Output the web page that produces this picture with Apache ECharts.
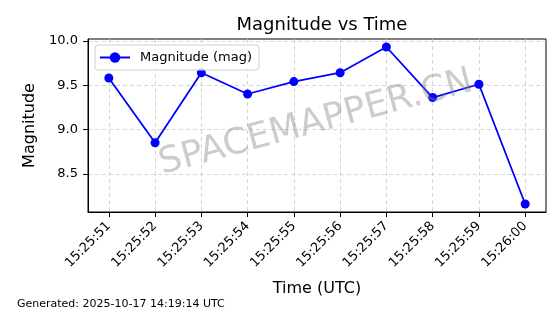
<!DOCTYPE html>
<html><head><meta charset="utf-8">
<script src="https://cdn.jsdelivr.net/npm/echarts@6/dist/echarts.min.js"></script>
<style>html,body{margin:0;padding:0;background:#fff}#c{width:560px;height:314px}</style>
</head><body><div id="c"></div>
<script>
var times = ['15:25:51','15:25:52','15:25:53','15:25:54','15:25:55','15:25:56','15:25:57','15:25:58','15:25:59','15:26:00'];
var magnitudes = [9.58, 8.85, 9.64, 9.40, 9.54, 9.64, 9.93, 9.36, 9.51, 8.16];
var yTicks = [8.5, 9.0, 9.5, 10.0];
var xTickIdx = times.map(function(t, i){ return i; });
var FONT = 'DejaVu Sans';
var chart = echarts.init(document.getElementById('c'), null, {renderer: 'canvas'});
chart.setOption({
  animation: false,
  textStyle: {fontFamily: FONT},
  title: {
    text: 'Magnitude vs Time', left: 317, top: 11, textAlign: 'center',
    textStyle: {fontFamily: FONT, fontSize: 18, fontWeight: 'normal', color: '#000'}
  },
  grid: {left: 88, right: 14, top: 39, bottom: 102, show: true, borderColor: '#000', borderWidth: 1, backgroundColor: 'transparent'},
  legend: {
    left: 95, top: 45, orient: 'vertical',
    padding: [6, 7, 6, 4], itemWidth: 30, itemHeight: 13,
    borderColor: '#d0d0d0', borderWidth: 1, borderRadius: 3, backgroundColor: 'rgba(255,255,255,0.8)',
    textStyle: {fontFamily: FONT, fontSize: 13, color: '#000', padding: [0, 0, 0, 5]},
    data: ['Magnitude (mag)']
  },
  xAxis: {
    type: 'value', min: -0.45, max: 9.45,
    name: 'Time (UTC)', nameLocation: 'middle', nameGap: 69,
    nameTextStyle: {fontFamily: FONT, fontSize: 16, color: '#000'},
    axisLine: {show: true, onZero: false, lineStyle: {color: '#000', width: 1}},
    axisTick: {show: true, length: 5, customValues: xTickIdx, lineStyle: {color: '#000'}},
    axisLabel: {customValues: xTickIdx, rotate: 45, margin: 12, fontFamily: FONT, fontSize: 13, color: '#000',
      formatter: function(v){ return times[Math.round(v)]; }},
    splitLine: {show: true, lineStyle: {color: '#cccccc', type: [4, 3], width: 0.8}}
  },
  yAxis: {
    type: 'value', min: 8.07, max: 10.02,
    name: 'Magnitude', nameLocation: 'middle', nameGap: 47,
    nameTextStyle: {fontFamily: FONT, fontSize: 16, color: '#000'},
    axisLine: {show: true, onZero: false, lineStyle: {color: '#000', width: 1}},
    axisTick: {show: true, length: 5, customValues: yTicks, lineStyle: {color: '#000'}},
    axisLabel: {customValues: yTicks, margin: 10, fontFamily: FONT, fontSize: 13, color: '#000',
      formatter: function(v){ return v.toFixed(1); }},
    splitLine: {show: true, lineStyle: {color: '#cccccc', type: [4, 3], width: 0.8}}
  },
  series: [{
    name: 'Magnitude (mag)', type: 'line',
    data: magnitudes.map(function(v, i){ return [i, v]; }),
    symbol: 'circle', symbolSize: 9,
    lineStyle: {color: '#0000ff', width: 1.8},
    itemStyle: {color: '#0000ff'}
  }],
  graphic: [
    {type: 'text', x: 316, y: 123, rotation: 15 * Math.PI / 180, z: 100,
     style: {text: 'SPACEMAPPER.CN', font: '36px "DejaVu Sans"', fill: 'rgba(128,128,128,0.4)', textAlign: 'center', textVerticalAlign: 'middle'}},
    {type: 'text', left: 17, top: 299,
     style: {text: 'Generated: 2025-10-17 14:19:14 UTC', font: '11px "DejaVu Sans"', fill: '#000'}}
  ]
});
</script></body></html>
